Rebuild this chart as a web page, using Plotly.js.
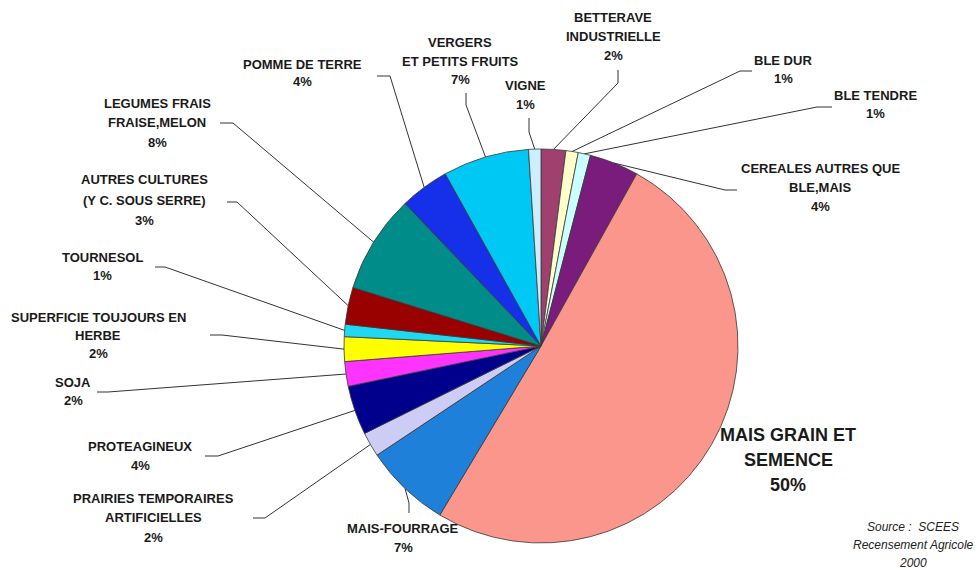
<!DOCTYPE html>
<html><head><meta charset="utf-8">
<script src="https://cdn.plot.ly/plotly-3.0.1.min.js"></script>
<style>html,body{margin:0;padding:0;background:#fff}</style>
</head><body><div id="chart" style="width:980px;height:569px"></div>
<script>
// ---- data ----
const categories = ["BETTERAVE\nINDUSTRIELLE","BLE DUR","BLE TENDRE","CEREALES AUTRES QUE\nBLE,MAIS","MAIS GRAIN ET\nSEMENCE","MAIS-FOURRAGE","PRAIRIES TEMPORAIRES\nARTIFICIELLES","PROTEAGINEUX","SOJA","SUPERFICIE TOUJOURS EN\nHERBE","TOURNESOL","AUTRES CULTURES\n(Y C. SOUS SERRE)","LEGUMES FRAIS\nFRAISE,MELON","POMME DE TERRE","VERGERS\nET PETITS FRUITS","VIGNE"];
const values = [2,1,1,4,50,7,2,4,2,2,1,3,8,4,7,1];
const colors = ["#A0406E","#FFFFCC","#CCFFFF","#7A1C7C","#FA968C","#1F80DA","#CCCCF5","#00008C","#FF33FF","#FFFF00","#20D8F0","#990000","#008C88","#1530E8","#00C8F5","#CCEEFF"];
const sourceLines = ["Source :  SCEES","Recensement Agricole","2000"];

// ---- layout (pixels) ----
const W = 980, H = 569;
const CX = 541, CY = 346, R = 197;
const px = x => x / W, py = y => 1 - y / H;
// label centre x, first line y, line gap, leader elbow points (label side first)
const labelPos = [
  {x:613, y:18,  g:19, lead:[[618,70],[618,83]]},
  {x:783, y:60,  g:18, lead:[[752,71],[740,71]]},
  {x:875, y:95,  g:18, lead:[[832,107],[817,107]]},
  {x:820, y:168, g:19.5, lead:[[737,190],[725,190]]},
  {x:788, y:435, g:25, lead:null, big:true},
  {x:403, y:528, g:19, lead:[[409,513],[409,503]]},
  {x:153, y:498, g:19.5, lead:[[253,518],[265,518]]},
  {x:140, y:446, g:19, lead:[[205,456],[218,456]]},
  {x:73,  y:382, g:18, lead:[[97,392],[108,392]]},
  {x:98,  y:317, g:18, lead:[[210,335],[222,335]]},
  {x:102, y:257, g:18, lead:[[155,267],[165,267]]},
  {x:144, y:180, g:20, lead:[[227,202],[237,202]]},
  {x:157, y:103, g:19.5, lead:[[220,123],[233,123]]},
  {x:302, y:65,  g:17, lead:[[377,76],[390,76]]},
  {x:460, y:42,  g:19, lead:[[466,93],[466,105]]},
  {x:525, y:85,  g:19, lead:[[529,118],[529,132]]}
];

const total = values.reduce((a,b)=>a+b,0);
const annotations = [];
const shapes = [];
let cum = 0;
values.forEach((v,i) => {
  const mid = (cum + v/2) / total * 2 * Math.PI;
  cum += v;
  const rx = CX + R * Math.sin(mid), ry = CY - R * Math.cos(mid);
  const lp = labelPos[i];
  const lines = categories[i].split("\n").concat([v + "%"]);
  lines.forEach((t,k) => {
    annotations.push({
      xref:'paper', yref:'paper', x:px(lp.x), y:py(lp.y + k*lp.g),
      xanchor:'center', yanchor:'middle', showarrow:false,
      text:'<b>'+t+'</b>',
      font:{family:'Liberation Sans, Arial, sans-serif', size: lp.big ? 18 : 13, color:'#1a1a1a'}
    });
  });
  if (lp.lead) {
    const p = lp.lead;
    shapes.push({
      type:'path', xref:'paper', yref:'paper',
      path:`M ${px(p[0][0])},${py(p[0][1])} L ${px(p[1][0])},${py(p[1][1])} L ${px(rx)},${py(ry)}`,
      line:{color:'#333333', width:1}
    });
  }
});
sourceLines.forEach((t,k) => {
  annotations.push({
    xref:'paper', yref:'paper', x:px(913), y:py(527 + k*18),
    xanchor:'center', yanchor:'middle', showarrow:false,
    text:'<i>'+t+'</i>',
    font:{family:'Liberation Sans, Arial, sans-serif', size:12, color:'#222'}
  });
});

const trace = {
  type:'pie', values:values, labels:categories.map(c=>c.replace("\n"," ")),
  sort:false, direction:'clockwise', rotation:0,
  textinfo:'none', hoverinfo:'label+percent',
  marker:{colors:colors, line:{color:'#3a3a3a', width:0.8}},
  domain:{x:[px(CX-R), px(CX+R)], y:[py(CY+R), py(CY-R)]},
  showlegend:false
};
Plotly.newPlot('chart', [trace], {
  width:W, height:H, margin:{l:0,r:0,t:0,b:0},
  paper_bgcolor:'#fff', showlegend:false,
  annotations:annotations, shapes:shapes
}, {displayModeBar:false, staticPlot:true});
</script></body></html>
